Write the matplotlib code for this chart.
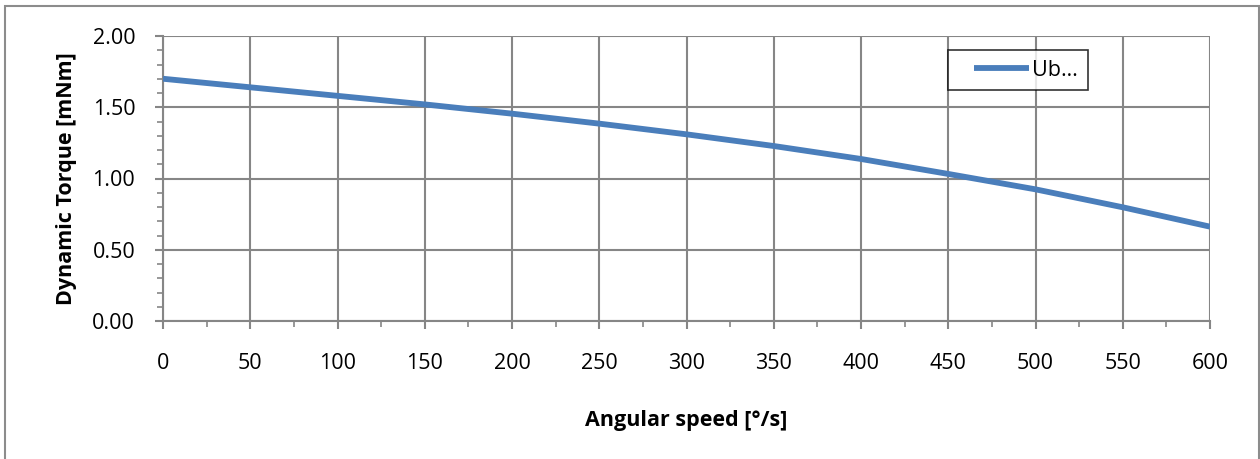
import matplotlib
matplotlib.use("Agg")
import numpy as np
import matplotlib.pyplot as plt
from matplotlib.patches import Rectangle
from matplotlib.lines import Line2D
from matplotlib.legend_handler import HandlerLine2D
from matplotlib.ticker import MultipleLocator, FormatStrFormatter

speed = [0, 50, 100, 150, 200, 250, 300, 350, 400, 450, 500, 550, 600]
torque = [1.70, 1.64, 1.58, 1.52, 1.455, 1.385, 1.31, 1.228, 1.137, 1.032, 0.924, 0.798, 0.662]
series_name = "Ub…"
x_ticks = [0, 50, 100, 150, 200, 250, 300, 350, 400, 450, 500, 550, 600]
y_ticks = [0.0, 0.5, 1.0, 1.5, 2.0]

plt.rcParams['font.family'] = ['Open Sans', 'DejaVu Sans']


class ShortLineHandler(HandlerLine2D):
    def create_artists(self, legend, orig_handle, xdescent, ydescent, width, height, fontsize, trans):
        artists = super().create_artists(legend, orig_handle, xdescent, ydescent, width, height, fontsize, trans)
        for a in artists:
            xd = np.asarray(a.get_xdata(), dtype=float)
            if len(xd) >= 2:
                x0, x1 = xd[0], xd[-1]
                a.set_xdata(np.linspace(x0 + 0.23 * (x1 - x0), x1, len(xd)))
        return artists


W, H = 1260, 459
fig = plt.figure(figsize=(W / 100, H / 100), dpi=100)
ax = fig.add_axes([163 / W, 1 - 321 / H, (1210 - 163) / W, (321 - 36) / H])

grid_c = '#868686'
line, = ax.plot(speed, torque, color='#4a7ebb', lw=4.2, solid_capstyle='butt', label=series_name, zorder=3)

ax.set_xlim(0, 600)
ax.set_ylim(0, 2.0)
ax.set_xticks(x_ticks)
ax.set_yticks(y_ticks)
ax.xaxis.set_minor_locator(MultipleLocator(25))
ax.yaxis.set_minor_locator(MultipleLocator(0.1))
ax.yaxis.set_major_formatter(FormatStrFormatter('%.2f'))
ax.grid(True, which='major', color=grid_c, lw=1.5, zorder=1)
ax.set_axisbelow(True)
for s in ['top', 'right']:
    ax.spines[s].set_visible(False)
for s in ['left', 'bottom']:
    ax.spines[s].set_color(grid_c)
    ax.spines[s].set_linewidth(1.5)
ax.tick_params(which='major', direction='out', length=6, width=1.5, color=grid_c,
               labelsize=15.5, labelcolor='black')
ax.tick_params(which='minor', direction='out', length=4, width=1.2, color=grid_c)
ax.tick_params(axis='x', which='major', pad=17)
ax.tick_params(axis='y', which='major', pad=14)

ax.set_xlabel('Angular speed [°/s]', fontsize=15.5, fontweight='bold', labelpad=26)
ax.set_ylabel('Dynamic Torque [mNm]', fontsize=15.5, fontweight='bold', labelpad=11)

leg = ax.legend(handles=[line], labels=[series_name],
                handler_map={line: ShortLineHandler()},
                loc='upper left', bbox_to_anchor=((948 - 163) / (1210 - 163), (321 - 50) / (321 - 36)),
                fontsize=15.5, frameon=True, fancybox=False, handlelength=3.3,
                borderpad=0.45, handletextpad=0.15, borderaxespad=0)
leg.get_frame().set_edgecolor('black')
leg.get_frame().set_linewidth(1.2)

fig.patches.append(Rectangle((5 / W, -0.05), (1259 - 5) / W, 1.05 - 6 / H,
                             transform=fig.transFigure, fill=False,
                             edgecolor='#8c8c8c', lw=1.5, clip_on=False))

fig.savefig('out.png', dpi=100)
